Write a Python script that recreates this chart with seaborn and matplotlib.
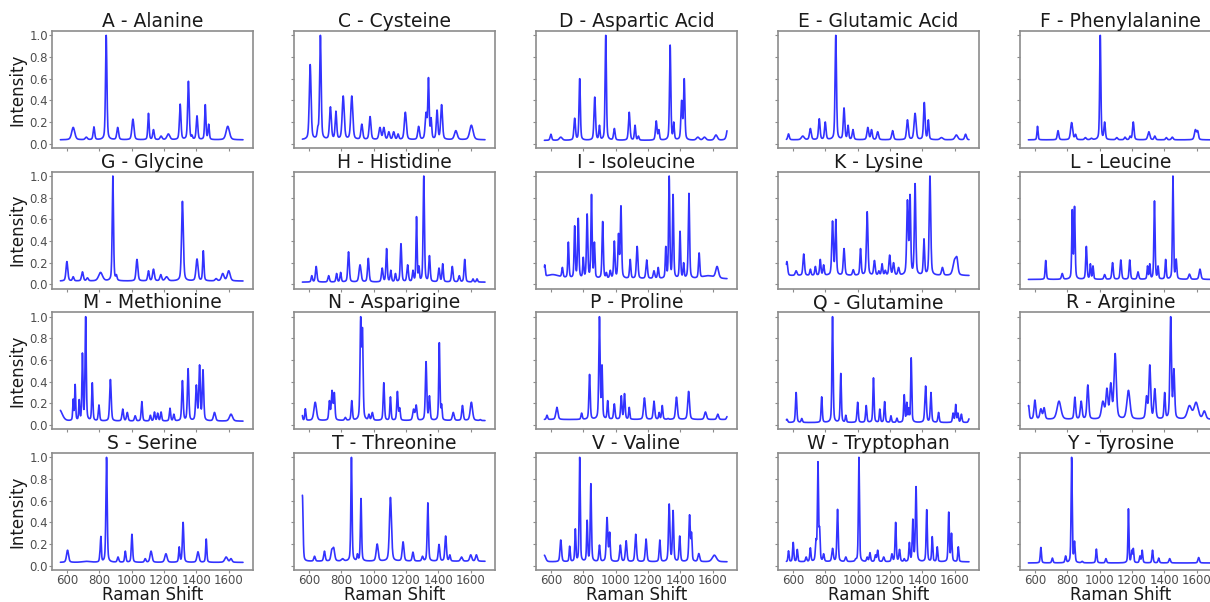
import numpy as np
import matplotlib
matplotlib.use("Agg")
import matplotlib.pyplot as plt
import seaborn as sns

# Raman shift axis shared by all spectra (cm^-1)
SHIFT = np.arange(560.0, 1689.0, 1.0)

# Panel titles, in grid order (4 rows x 5 columns)
TITLES = [
    "A - Alanine", "C - Cysteine", "D - Aspartic Acid", "E - Glutamic Acid", "F - Phenylalanine",
    "G - Glycine", "H - Histidine", "I - Isoleucine", "K - Lysine", "L - Leucine",
    "M - Methionine", "N - Asparigine", "P - Proline", "Q - Glutamine", "R - Arginine",
    "S - Serine", "T - Threonine", "V - Valine", "W - Tryptophan", "Y - Tyrosine",
]

# Baseline level of each normalised spectrum
BASELINES = [0.035, 0.035, 0.03, 0.035, 0.035,
             0.03, 0.02, 0.05, 0.08, 0.045,
             0.035, 0.04, 0.05, 0.022, 0.05,
             0.03, 0.04, 0.035, 0.035, 0.025]

# Band lists: (position cm^-1, normalised peak intensity, FWHM cm^-1)
ALA = [(639, .15, 22), (720, .06, 15), (767, .155, 10), (843, 1.0, 9), (914, .15, 12),
       (1008, .226, 14), (1104, .28, 8), (1135, .13, 10), (1182, .07, 14), (1227, .09, 20),
       (1300, .365, 10), (1351, .576, 10), (1373, .08, 6), (1404, .257, 10), (1455, .36, 8),
       (1476, .18, 8), (1594, .16, 24)]
CYS = [(608, .73, 12), (655, .16, 8), (671, 1.0, 10), (733, .34, 12), (767, .30, 10),
       (812, .44, 14), (865, .44, 14), (927, .18, 12), (978, .25, 12), (1039, .15, 14),
       (1063, .15, 12), (1094, .11, 12), (1124, .11, 12), (1151, .09, 10), (1196, .29, 14),
       (1278, .16, 12), (1324, .29, 12), (1339, .61, 8), (1355, .24, 8), (1392, .31, 10),
       (1420, .36, 12), (1508, .12, 20), (1604, .17, 24)]
ASP = [(600, .087, 10), (661, .06, 20), (747, .235, 10), (778, .60, 8), (871, .43, 10),
       (900, .17, 7), (939, 1.0, 8), (992, .14, 10), (1084, .29, 10), (1120, .17, 8),
       (1141, .07, 8), (1251, .21, 10), (1267, .13, 8), (1337, .91, 8), (1359, .20, 7),
       (1408, .40, 10), (1424, .60, 8), (1508, .06, 20), (1549, .06, 20), (1620, .08, 20),
       (1698, .2, 20)]
GLU = [(573, .09, 10), (661, .07, 20), (708, .14, 12), (763, .23, 10), (800, .2, 10),
       (865, 1.0, 9), (916, .33, 10), (941, .17, 8), (971, .13, 10), (1063, .15, 12),
       (1086, .13, 10), (1124, .11, 12), (1216, .12, 12), (1308, .22, 12), (1355, .28, 14),
       (1412, .38, 10), (1437, .22, 8), (1518, .056, 20), (1610, .08, 20), (1667, .087, 12)]
PHE = [(616, .16, 6), (743, .12, 10), (827, .195, 14), (851, .087, 10), (912, .056, 12),
       (949, .05, 12), (1004, 1.0, 7), (1031, .20, 9), (1106, .056, 12), (1157, .06, 10),
       (1188, .07, 8), (1208, .20, 10), (1304, .11, 14), (1341, .07, 10), (1412, .056, 10),
       (1449, .06, 12), (1592, .13, 14), (1606, .12, 10)]
GLY = [(600, .21, 12), (639, .07, 10), (696, .115, 12), (727, .06, 12), (808, .11, 28),
       (884, 1.0, 8), (906, .09, 8), (1033, .23, 12), (1104, .125, 10), (1135, .14, 12),
       (1180, .09, 12), (1216, .07, 20), (1314, .766, 12), (1404, .234, 14), (1443, .31, 8),
       (1522, .053, 14), (1563, .10, 18), (1600, .125, 20)]
HIS = [(618, .08, 8), (645, .165, 10), (722, .08, 10), (771, .10, 8), (796, .11, 8),
       (845, .30, 10), (916, .18, 14), (967, .24, 10), (1053, .15, 10), (1080, .33, 8),
       (1106, .13, 8), (1135, .10, 8), (1169, .375, 9), (1210, .18, 10), (1243, .13, 8),
       (1265, .625, 6), (1280, .17, 6), (1310, 1.0, 8), (1345, .265, 9), (1404, .15, 10),
       (1427, .19, 8), (1486, .165, 10), (1529, .08, 10), (1563, .23, 9), (1614, .05, 8),
       (1639, .05, 8)]
ILE = [(562, .18, 6), (610, .09, 100), (671, .156, 8), (708, .39, 7), (747, .54, 7),
       (769, .61, 8), (800, .25, 6), (824, .65, 8), (851, .83, 7), (869, .39, 6),
       (920, .58, 8), (943, .11, 6), (967, .13, 8), (992, .40, 8), (1018, .47, 8),
       (1033, .725, 8), (1090, .23, 8), (1133, .35, 10), (1192, .225, 10), (1237, .125, 10),
       (1263, .156, 8), (1310, .35, 6), (1331, 1.0, 7), (1355, .83, 7), (1398, .49, 7),
       (1420, .20, 6), (1453, .84, 8), (1516, .29, 8), (1570, .08, 80), (1627, .165, 20)]
LYS = [(563, .21, 10), (620, .125, 12), (667, .28, 10), (708, .14, 8), (739, .165, 8),
       (769, .23, 8), (790, .18, 8), (845, .585, 10), (865, .60, 8), (916, .33, 10),
       (973, .135, 10), (1018, .33, 8), (1059, .67, 10), (1104, .22, 10), (1131, .125, 8),
       (1151, .19, 8), (1171, .13, 8), (1198, .27, 10), (1222, .20, 10), (1253, .156, 10),
       (1308, .78, 10), (1324, .83, 8), (1355, .93, 9), (1410, .42, 8), (1447, 1.0, 10),
       (1524, .156, 12), (1600, .235, 24), (1614, .25, 14)]
LEU = [(667, .22, 7), (769, .10, 10), (831, .69, 6), (845, .72, 7), (918, .35, 8),
       (943, .19, 6), (959, .17, 6), (1031, .09, 10), (1080, .20, 9), (1131, .225, 9),
       (1186, .225, 8), (1237, .115, 10), (1296, .17, 6), (1310, .19, 6), (1339, .77, 7),
       (1361, .17, 6), (1408, .23, 7), (1453, 1.0, 6), (1473, .234, 8), (1555, .094, 12),
       (1620, .14, 12)]
MET = [(555, .14, 40), (639, .24, 5), (651, .375, 5), (676, .235, 5), (696, .665, 6),
       (716, 1.0, 7), (757, .39, 7), (798, .185, 8), (869, .42, 10), (945, .147, 10),
       (973, .116, 10), (1022, .085, 10), (1063, .216, 8), (1116, .09, 8), (1141, .12, 8),
       (1161, .11, 8), (1182, .12, 8), (1237, .155, 8), (1261, .10, 8), (1314, .41, 9),
       (1349, .52, 9), (1400, .37, 10), (1420, .555, 9), (1441, .51, 9), (1512, .116, 14),
       (1614, .10, 22)]
ASN = [(557, .11, 6), (578, .15, 6), (639, .21, 18), (727, .225, 8), (743, .32, 10),
       (757, .30, 8), (825, .07, 10), (865, .225, 8), (920, 1.0, 8), (931, .9, 8),
       (971, .10, 8), (992, .116, 10), (1063, .39, 8), (1104, .26, 7), (1147, .31, 8),
       (1161, .16, 8), (1247, .147, 12), (1263, .185, 10), (1324, .585, 9), (1345, .27, 8),
       (1406, .76, 7), (1420, .195, 6), (1492, .116, 12), (1549, .18, 10), (1604, .21, 16),
       (1659, .05, 8)]
PRO = [(576, .09, 8), (637, .163, 14), (790, .11, 8), (839, .467, 8), (900, 1.0, 8),
       (916, .555, 6), (951, .225, 7), (992, .195, 9), (1035, .27, 8), (1055, .29, 8),
       (1084, .163, 6), (1178, .25, 12), (1237, .22, 10), (1269, .116, 6), (1288, .18, 8),
       (1324, .06, 8), (1376, .257, 12), (1451, .31, 12), (1555, .12, 14), (1631, .10, 12),
       (1690, .08, 10)]
GLN = [(563, .053, 10), (620, .30, 8), (655, .06, 8), (778, .26, 7), (845, 1.0, 7),
       (896, .476, 7), (927, .09, 6), (1000, .21, 8), (1053, .18, 8), (1098, .435, 7),
       (1137, .147, 6), (1167, .216, 7), (1206, .085, 7), (1243, .063, 7), (1288, .28, 7),
       (1304, .21, 6), (1316, .16, 5), (1331, .62, 6), (1420, .36, 10), (1453, .30, 8),
       (1500, .116, 8), (1590, .11, 8), (1606, .19, 7), (1620, .11, 6), (1641, .10, 8),
       (1690, .06, 10)]
ARG = [(561, .18, 8), (600, .23, 12), (637, .15, 14), (657, .16, 12), (749, .22, 28),
       (847, .257, 10), (886, .22, 12), (927, .37, 12), (1020, .22, 20), (1045, .34, 14),
       (1069, .39, 14), (1096, .66, 16), (1178, .32, 22), (1290, .27, 12), (1310, .555, 12),
       (1341, .335, 12), (1402, .30, 8), (1439, 1.0, 10), (1459, .52, 10), (1555, .18, 30),
       (1596, .21, 30), (1647, .13, 20)]
SER = [(604, .143, 14), (720, .04, 60), (804, .128, 5), (810, .27, 5), (845, 1.0, 8),
       (916, .08, 10), (961, .134, 8), (1002, .29, 8), (1084, .065, 10), (1120, .134, 14),
       (1212, .11, 16), (1294, .174, 7), (1318, .40, 9), (1410, .128, 14), (1461, .246, 7),
       (1584, .08, 20), (1614, .065, 14)]
THR = [(560, .65, 8), (635, .087, 10), (696, .134, 10), (741, .15, 12), (753, .168, 14),
       (808, .065, 16), (863, 1.0, 7), (900, .11, 6), (922, .62, 7), (1022, .2, 14),
       (1104, .63, 14), (1182, .22, 12), (1243, .125, 10), (1302, .087, 10), (1335, .58, 8),
       (1404, .196, 10), (1445, .274, 10), (1471, .1, 8), (1543, .08, 14), (1600, .10, 14),
       (1635, .1, 12)]
VAL = [(559, .097, 20), (661, .237, 10), (716, .18, 6), (751, .34, 6), (778, 1.0, 6),
       (824, .42, 6), (847, .757, 7), (900, .19, 8), (947, .445, 10), (963, .31, 7),
       (1029, .19, 10), (1065, .23, 10), (1124, .29, 10), (1188, .246, 10), (1273, .237, 8),
       (1331, .57, 9), (1355, .51, 8), (1396, .274, 8), (1457, .47, 9), (1469, .31, 6),
       (1514, .112, 12), (1610, .097, 30)]
TRP = [(573, .137, 6), (602, .215, 7), (627, .15, 6), (682, .08, 8), (708, .165, 7),
       (743, .25, 8), (755, .96, 6), (765, .36, 6), (790, .11, 8), (845, .16, 10),
       (876, .52, 8), (927, .08, 10), (988, .065, 8), (1008, 1.0, 6), (1059, .08, 8),
       (1076, .12, 8), (1110, .10, 8), (1124, .143, 8), (1161, .08, 10), (1212, .11, 8),
       (1235, .40, 7), (1259, .15, 8), (1288, .065, 6), (1320, .215, 7), (1341, .43, 7),
       (1361, .73, 8), (1427, .517, 7), (1461, .268, 6), (1492, .174, 6), (1563, .495, 7),
       (1580, .30, 7), (1622, .174, 6)]
TYR = [(637, .168, 7), (708, .07, 8), (790, .09, 8), (827, 1.0, 6), (845, .227, 7),
       (892, .04, 10), (980, .153, 7), (1039, .065, 8), (1178, .525, 5), (1198, .143, 6),
       (1208, .16, 6), (1249, .09, 7), (1263, .143, 7), (1327, .143, 7), (1365, .07, 8),
       (1433, .065, 10), (1612, .075, 10)]

BANDS = [ALA, CYS, ASP, GLU, PHE, GLY, HIS, ILE, LYS, LEU,
         MET, ASN, PRO, GLN, ARG, SER, THR, VAL, TRP, TYR]

ETA = 0.4          # Lorentzian fraction of the pseudo-Voigt band shape
RESOLUTION = 5.0   # instrument broadening added to every band, cm^-1


def band_shape(x, centre, fwhm):
    u = (x - centre) / fwhm
    return ETA / (1 + 4 * u ** 2) + (1 - ETA) * np.exp(-4 * np.log(2) * u ** 2)


def build_spectrum(bands, base):
    pos, height, fwhm = np.array(bands, dtype=float).T
    fwhm = np.sqrt(fwhm ** 2 + RESOLUTION ** 2)
    # amplitudes chosen so that the summed curve reaches each listed intensity
    overlap = band_shape(pos[:, None], pos[None, :], fwhm[None, :])
    target = height - base
    amp = target.copy()
    for _ in range(400):
        amp = np.clip(amp + 0.6 * (target - overlap @ amp), 0, None)
    y = base + band_shape(SHIFT[:, None], pos[None, :], fwhm[None, :]) @ amp
    return y / y.max()


sns.set_theme(style="white")
plt.rcParams.update({
    "font.family": ["DejaVu Sans"],
    "axes.edgecolor": "0.55",
    "axes.linewidth": 1.2,
    "xtick.bottom": True,
    "ytick.left": True,
    "xtick.direction": "out",
    "ytick.direction": "out",
    "xtick.major.size": 2,
    "ytick.major.size": 2,
    "xtick.major.pad": 0.8,
    "ytick.major.pad": 1.0,
    "xtick.major.width": 0.8,
    "ytick.major.width": 0.8,
    "xtick.color": "0.55",
    "ytick.color": "0.55",
    "xtick.labelcolor": "0.3",
    "ytick.labelcolor": "0.3",
    "xtick.labelsize": 8.5,
    "ytick.labelsize": 8.5,
    "axes.labelsize": 12,
    "axes.labelcolor": "0.1",
    "axes.titlesize": 13.5,
    "axes.titlecolor": "0.1",
})

fig, axes = plt.subplots(4, 5, sharex=True, sharey=True, figsize=(12.1, 6.02), dpi=100)
fig.subplots_adjust(left=52 / 1210, right=1221 / 1210, bottom=1 - 570 / 602,
                    top=1 - 31 / 602, wspace=41 / 201, hspace=23.7 / 117)

for i, ax in enumerate(axes.flat):
    y = build_spectrum(BANDS[i], BASELINES[i])
    sns.lineplot(x=SHIFT, y=y, ax=ax, color="#0000ff", lw=1.2, alpha=0.8)
    ax.set_title(TITLES[i], pad=3)
    ax.set_xlabel("Raman Shift" if i >= 15 else "", labelpad=-0.5)
    ax.set_ylabel("Intensity" if i % 5 == 0 else "", labelpad=2)
    for s in ax.spines.values():
        s.set_visible(True)

axes[0, 0].set_xlim(508, 1750)
axes[0, 0].set_ylim(-0.04, 1.04)
axes[0, 0].set_xticks([600, 800, 1000, 1200, 1400, 1600])
axes[0, 0].set_yticks([0.0, 0.2, 0.4, 0.6, 0.8, 1.0])

fig.savefig("out.png", dpi=100)
